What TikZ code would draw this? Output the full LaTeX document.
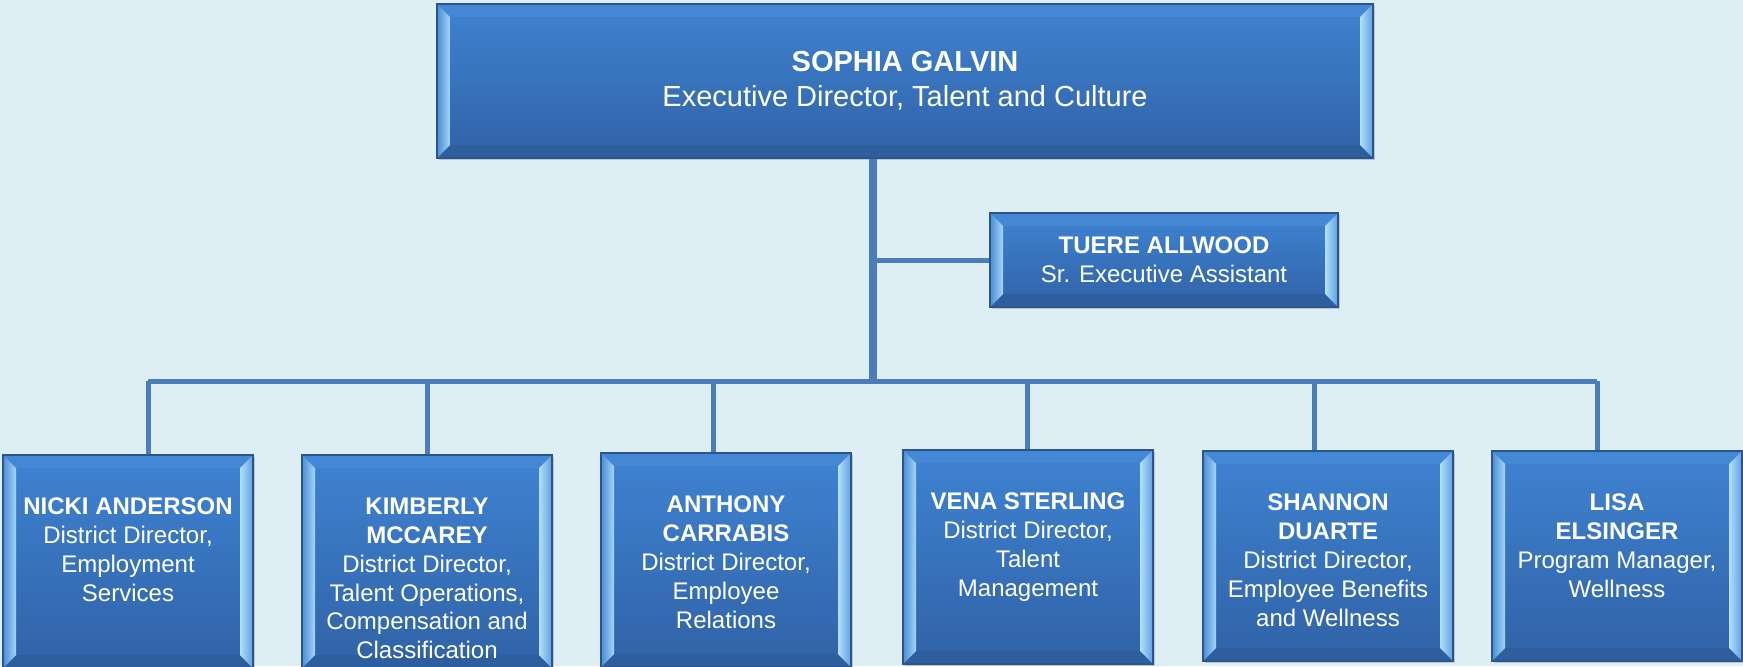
\documentclass[tikz,border=0pt]{standalone}
\usepackage{fontspec}
\setmainfont{Liberation Sans}
\usetikzlibrary{positioning,shadows}

\definecolor{paper}{HTML}{DDEEF5}
\definecolor{wire}{HTML}{4A7EBB}
\definecolor{facetop}{HTML}{3F83D2}
\definecolor{facebot}{HTML}{3062A6}
\definecolor{rim}{HTML}{2C5590}
\definecolor{bevla}{HTML}{4C8CD6}
\definecolor{bevlb}{HTML}{A4D6F7}
\definecolor{bevra}{HTML}{B0E0FA}
\definecolor{bevrb}{HTML}{5E9EE0}
\definecolor{bevt}{HTML}{4487D5}
\definecolor{bevb}{HTML}{2F5E9E}

\begin{document}
\begin{tikzpicture}[x=0.5pt, y=-0.5pt,
  card/.style={draw=rim, line width=0.6pt, top color=facetop, bottom color=facebot,
    drop shadow={shadow xshift=1pt, shadow yshift=-1.2pt, opacity=0.25, fill=black!70},
    path picture={
      % top and bottom bevel
      \fill[bevt] (path picture bounding box.north west) -- (path picture bounding box.north east)
        -- ([shift={(-6.5pt,-6.5pt)}]path picture bounding box.north east)
        -- ([shift={(6.5pt,-6.5pt)}]path picture bounding box.north west) -- cycle;
      \fill[bevb] (path picture bounding box.south west) -- (path picture bounding box.south east)
        -- ([shift={(-6.5pt,6.5pt)}]path picture bounding box.south east)
        -- ([shift={(6.5pt,6.5pt)}]path picture bounding box.south west) -- cycle;
      % left and right bevel
      \shade[left color=bevla, right color=bevlb] (path picture bounding box.north west)
        -- ([shift={(6.5pt,-6.5pt)}]path picture bounding box.north west)
        -- ([shift={(6.5pt,6.5pt)}]path picture bounding box.south west)
        -- (path picture bounding box.south west) -- cycle;
      \shade[left color=bevra, right color=bevrb] (path picture bounding box.north east)
        -- ([shift={(-6.5pt,-6.5pt)}]path picture bounding box.north east)
        -- ([shift={(-6.5pt,6.5pt)}]path picture bounding box.south east)
        -- (path picture bounding box.south east) -- cycle;
    }},
  who/.style={text=white, align=center, inner sep=0pt, font=\fontsize{12}{14.45}\selectfont},
  staff/.style={card, minimum width=125pt},
  link/.style={draw=wire, line width=2.5pt},
  trunk/.style={draw=wire, line width=4pt}]

\useasboundingbox (0,0) rectangle (1743,666);
\fill[paper] (0,0) rectangle (1743,666);

\node[card, minimum width=468pt, minimum height=77pt, text=white, align=center,
  font=\fontsize{14.5}{17.3}\selectfont] (galvin) at (905,81)
  {\textbf{SOPHIA GALVIN}\\Executive Director, Talent and Culture};
\node[card, minimum width=174pt, minimum height=47pt, who] (allwood) at (1164,260)
  {\textbf{TUERE ALLWOOD}\\Sr. Executive Assistant};

\coordinate (hub) at (873,381);
\coordinate (bus-w) at (148,381);
\coordinate (bus-e) at (1597,381);

\draw[trunk] (hub |- galvin.south) -- (hub);
\draw[link] (hub |- allwood.west) -- (allwood.west);
\draw[link] (bus-w) -- (bus-e);

\node[staff, minimum height=106.5pt] (anderson) at (128,561.5) {};
\node[staff, minimum height=106.5pt] (mccarey) at (427,561.5) {};
\node[staff, minimum height=107pt] (carrabis) at (726,560) {};
\node[staff, minimum height=107pt] (sterling) at (1028,557) {};
\node[staff, minimum height=105pt] (duarte) at (1328,556) {};
\node[staff, minimum height=105pt] (elsinger) at (1617,556) {};

\coordinate (drop-anderson) at (148,381);
\coordinate (drop-mccarey) at (427,381);
\coordinate (drop-carrabis) at (713,381);
\coordinate (drop-sterling) at (1027,381);
\coordinate (drop-duarte) at (1314,381);
\coordinate (drop-elsinger) at (1597,381);

\draw[link] (drop-anderson) -- (drop-anderson |- anderson.north);
\draw[link] (drop-mccarey) -- (drop-mccarey |- mccarey.north);
\draw[link] (drop-carrabis) -- (drop-carrabis |- carrabis.north);
\draw[link] (drop-sterling) -- (drop-sterling |- sterling.north);
\draw[link] (drop-duarte) -- (drop-duarte |- duarte.north);
\draw[link] (drop-elsinger) -- (drop-elsinger |- elsinger.north);

\node[who, below=21.5pt of anderson.north] (anderson-txt)
  {\textbf{NICKI ANDERSON}\\District Director,\\Employment\\Services};
\node[who, below=21.5pt of mccarey.north] (mccarey-txt)
  {\textbf{KIMBERLY}\\\textbf{MCCAREY}\\District Director,\\Talent Operations,\\Compensation and\\Classification};
\node[who, below=21.5pt of carrabis.north] (carrabis-txt)
  {\textbf{ANTHONY}\\\textbf{CARRABIS}\\District Director,\\Employee\\Relations};
\node[who, below=21.5pt of sterling.north] (sterling-txt)
  {\textbf{VENA STERLING}\\District Director,\\Talent\\Management};
\node[who, below=21.5pt of duarte.north] (duarte-txt)
  {\textbf{SHANNON}\\\textbf{DUARTE}\\District Director,\\Employee Benefits\\and Wellness};
\node[who, below=21.5pt of elsinger.north] (elsinger-txt)
  {\textbf{LISA}\\\textbf{ELSINGER}\\Program Manager,\\Wellness};
\end{tikzpicture}
\end{document}
